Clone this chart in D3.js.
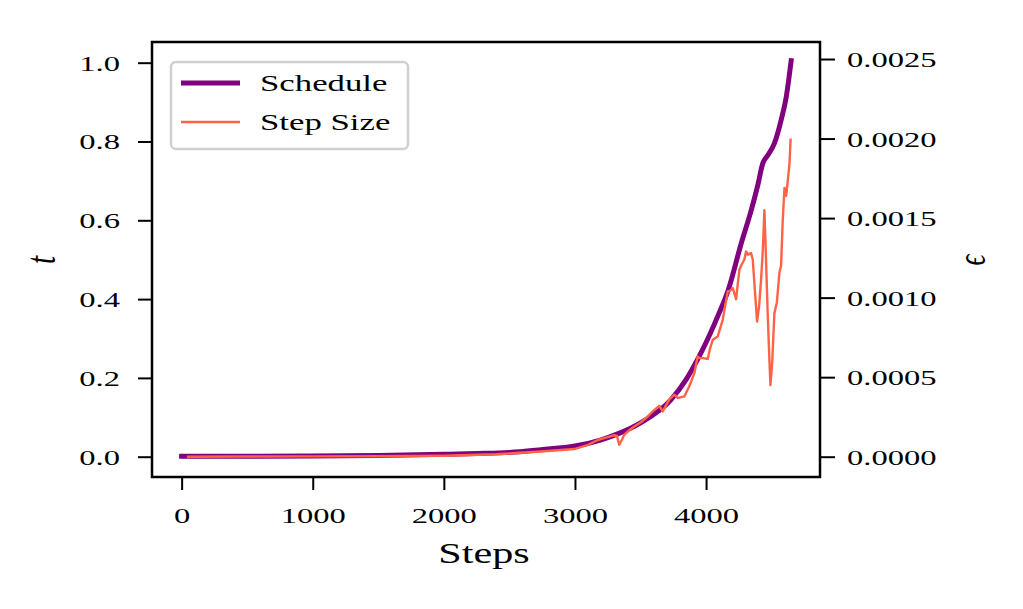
<!DOCTYPE html>
<html>
<head>
<meta charset="utf-8">
<script src="https://cdn.jsdelivr.net/npm/d3@7"></script>
<style>
  html, body { margin: 0; padding: 0; background: #ffffff; }
  svg { display: block; }
  text { font-family: "Liberation Serif", "DejaVu Serif", serif; fill: #000; }
</style>
</head>
<body>
<script>
// ---------------- data ----------------
const scheduleSteps  = [0, 500, 1000, 1500, 2000, 2250, 2500, 2740, 3000, 3200, 3326, 3500, 3733, 3850, 3962, 4100, 4166, 4267, 4344, 4395, 4433, 4471, 4521, 4573, 4611, 4649];
const scheduleValues = [0.001, 0.001, 0.002, 0.003, 0.006, 0.008, 0.011, 0.018, 0.027, 0.043, 0.058, 0.086, 0.145, 0.197, 0.264, 0.365, 0.42, 0.54, 0.625, 0.69, 0.745, 0.765, 0.795, 0.855, 0.912, 1.005];

const stepSizeSteps  = [40, 500, 1000, 1500, 2000, 2400, 2740, 2995, 3100, 3173, 3230, 3300, 3320, 3338, 3360, 3376, 3420, 3453, 3500, 3555, 3600, 3644, 3669, 3700, 3720, 3758, 3784, 3834, 3870, 3885, 3911, 3936, 3949, 3980, 4013, 4030, 4051, 4089, 4127, 4140, 4166, 4178, 4204, 4229, 4254, 4267, 4292, 4305, 4320, 4343, 4356, 4372, 4389, 4405, 4420, 4433, 4445, 4455, 4470, 4483, 4491, 4505, 4521, 4540, 4560, 4572, 4585, 4598, 4611, 4625, 4636, 4645];
const stepSizeValues = [0.0000000, 0.000001, 0.000002, 0.000003, 0.000006, 0.000015, 0.000033, 0.000048, 0.000075, 0.000105, 0.000118, 0.000135, 0.000130, 0.000075, 0.000110, 0.000138, 0.000170, 0.000190, 0.000215, 0.000253, 0.000290, 0.000320, 0.000285, 0.000330, 0.000360, 0.000390, 0.000369, 0.000379, 0.000440, 0.000470, 0.000526, 0.000630, 0.000620, 0.000620, 0.000614, 0.000680, 0.000735, 0.000756, 0.000860, 0.000923, 0.001040, 0.001040, 0.001060, 0.000990, 0.001175, 0.001200, 0.001240, 0.001290, 0.001270, 0.001280, 0.001240, 0.001050, 0.000850, 0.000950, 0.001120, 0.001300, 0.001550, 0.001300, 0.000900, 0.000610, 0.000450, 0.000600, 0.000900, 0.000970, 0.001160, 0.001200, 0.001490, 0.001690, 0.001640, 0.001750, 0.001840, 0.002000];

const xTicks     = [0, 1000, 2000, 3000, 4000];
const tTicks     = [0.0, 0.2, 0.4, 0.6, 0.8, 1.0];
const epsTicks   = [0.0000, 0.0005, 0.0010, 0.0015, 0.0020, 0.0025];
const seriesNames = ["Schedule", "Step Size"];
const seriesColors = ["#800080", "#ff6347"];

// ---------------- layout ----------------
const W = 1023, H = 609;
const L = 152, R = 820, T = 42, B = 477;
const SX = 1.48; // horizontal stretch of the reference text

const svg = d3.select("body").append("svg").attr("width", W).attr("height", H);
svg.append("rect").attr("width", W).attr("height", H).attr("fill", "#fff");

const x = d3.scaleLinear().domain([-226, 4869]).range([L, R]);
const yL = d3.scaleLinear().domain([-0.0515, 1.0525]).range([B, T]);
const yR = d3.scaleLinear().domain([-0.0001276, 0.002607]).range([B, T]);

svg.append("clipPath").attr("id", "clip").append("rect")
  .attr("x", L).attr("y", T).attr("width", R - L).attr("height", B - T);

const plot = svg.append("g").attr("clip-path", "url(#clip)");

const schedData = scheduleSteps.map((s, i) => [s, scheduleValues[i]]);
const stepData = stepSizeSteps.map((s, i) => [s, stepSizeValues[i]]);

plot.append("path").datum(schedData)
  .attr("d", d3.line().x(d => x(d[0])).y(d => yL(d[1])).curve(d3.curveMonotoneX))
  .attr("fill", "none").attr("stroke", seriesColors[0]).attr("stroke-width", 5)
  .attr("stroke-linecap", "square").attr("stroke-linejoin", "round");

plot.append("path").datum(stepData)
  .attr("d", d3.line().x(d => x(d[0])).y(d => yR(d[1])))
  .attr("fill", "none").attr("stroke", seriesColors[1]).attr("stroke-width", 2.4)
  .attr("stroke-linecap", "butt").attr("stroke-linejoin", "round");

// ---------------- axes ----------------
const tickFont = 22;

const gx = svg.append("g").attr("transform", `translate(0,${B})`)
  .call(d3.axisBottom(x).tickValues(xTicks).tickFormat(d3.format("d")).tickSize(13));
gx.selectAll("text").attr("y", 46).attr("dy", null)
  .attr("font-size", tickFont)
  .attr("transform", `scale(${SX},1)`);

const gl = svg.append("g").attr("transform", `translate(${L},0)`)
  .call(d3.axisLeft(yL).tickValues(tTicks).tickFormat(d3.format(".1f")).tickSize(14));
gl.selectAll("text").attr("x", -32 / SX).attr("dy", "0.34em")
  .attr("font-size", tickFont)
  .attr("transform", `scale(${SX},1)`);

const gr = svg.append("g").attr("transform", `translate(${R},0)`)
  .call(d3.axisRight(yR).tickValues(epsTicks).tickFormat(d3.format(".4f")).tickSize(15));
gr.selectAll("text").attr("x", 27 / SX).attr("dy", "0.34em")
  .attr("font-size", tickFont)
  .attr("transform", `scale(${SX},1)`);

[gx, gl, gr].forEach(g => {
  g.select(".domain").remove();
  g.selectAll("line").attr("stroke", "#000").attr("stroke-width", 2);
  g.attr("font-family", null);
  g.selectAll("text").attr("fill", "#000");
});

// frame
svg.append("rect").attr("x", L).attr("y", T).attr("width", R - L).attr("height", B - T)
  .attr("fill", "none").attr("stroke", "#000").attr("stroke-width", 2.5);

// axis labels
svg.append("text")
  .attr("transform", `translate(484,563) scale(${SX},1)`)
  .attr("text-anchor", "middle").attr("font-size", 28.5)
  .text("Steps");

svg.append("text")
  .attr("transform", `translate(55,260) scale(${SX},1) rotate(-90)`)
  .attr("text-anchor", "middle").attr("font-size", 29).attr("font-style", "italic")
  .text("t");

svg.append("text")
  .attr("transform", `translate(985,260) scale(${SX},1) rotate(-90)`)
  .attr("text-anchor", "middle").attr("font-size", 27).attr("font-style", "italic")
  .attr("font-family", "DejaVu Serif, serif")
  .text("\u03F5");

// ---------------- legend ----------------
const leg = svg.append("g");
leg.append("rect").attr("x", 171).attr("y", 62).attr("width", 237).attr("height", 87)
  .attr("rx", 5).attr("ry", 5)
  .attr("fill", "#fff").attr("fill-opacity", 0.8)
  .attr("stroke", "#d0d0d0").attr("stroke-width", 2.5);

const legRows = [{y: 83, w: 5}, {y: 122, w: 2.4}];
legRows.forEach((r, i) => {
  leg.append("line").attr("x1", 181).attr("x2", 240).attr("y1", r.y).attr("y2", r.y)
    .attr("stroke", seriesColors[i]).attr("stroke-width", r.w);
  leg.append("text")
    .attr("transform", `translate(260,${r.y + 8}) scale(${SX},1)`)
    .attr("font-size", 23.5)
    .text(seriesNames[i]);
});
</script>
</body>
</html>
